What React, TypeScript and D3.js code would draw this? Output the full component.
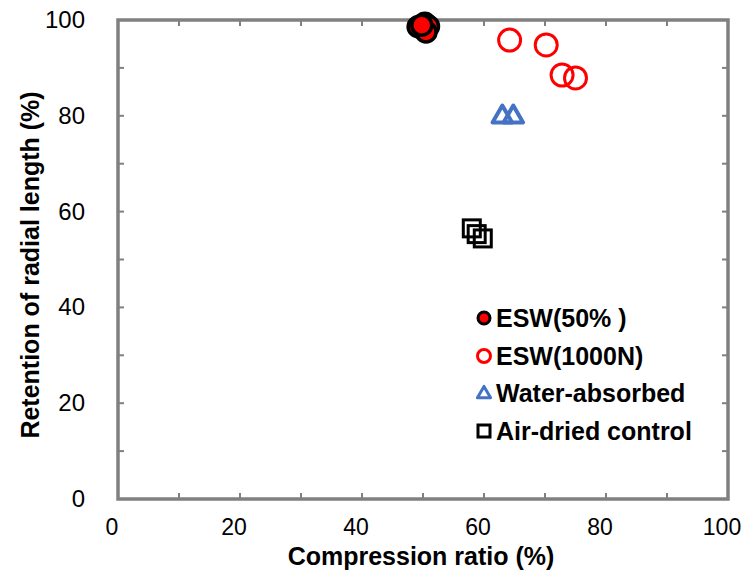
import React, { useEffect, useRef } from "react";
import * as d3 from "d3";

// values
const esw50 = [
  { x: 49.2, y: 98.6 },
  { x: 50.3, y: 99.3 },
  { x: 50.9, y: 98.7 },
  { x: 50.5, y: 97.5 },
  { x: 49.8, y: 98.9 },
];
const esw1000 = [
  { x: 64.2, y: 95.8 },
  { x: 70.2, y: 94.8 },
  { x: 72.8, y: 88.5 },
  { x: 75.0, y: 87.9 },
];
const waterAbsorbed = [
  { x: 63.0, y: 79.8 },
  { x: 64.8, y: 79.8 },
];
const airDried = [
  { x: 58.0, y: 56.5 },
  { x: 58.8, y: 55.3 },
  { x: 59.8, y: 54.4 },
];
const majorTicks = [0, 20, 40, 60, 80, 100];
const minorTicks = [10, 30, 50, 70, 90];
const legendNames = ["ESW(50% )", "ESW(1000N)", "Water-absorbed", "Air-dried control"];

export default function App() {
  const svgRef = useRef<SVGSVGElement>(null);

  useEffect(() => {
    const width = 750;
    const height = 578;
    const svg = d3.select(svgRef.current).attr("width", width).attr("height", height);
    svg.selectAll("*").remove();

    const x = d3.scaleLinear().domain([0, 100]).range([118, 728]);
    const y = d3.scaleLinear().domain([0, 100]).range([499, 20]);
    const gray = "#808080";
    const font = "Arial, 'Liberation Sans', sans-serif";

    // inward ticks on all four sides
    const allTicks = majorTicks.concat(minorTicks);
    const tl = 6;
    allTicks.forEach((t) => {
      svg.append("line").attr("x1", x(t)).attr("x2", x(t)).attr("y1", y(0)).attr("y2", y(0) - tl).attr("stroke", gray).attr("stroke-width", 2);
      svg.append("line").attr("x1", x(t)).attr("x2", x(t)).attr("y1", y(100)).attr("y2", y(100) + tl).attr("stroke", gray).attr("stroke-width", 2);
      svg.append("line").attr("y1", y(t)).attr("y2", y(t)).attr("x1", x(0)).attr("x2", x(0) + tl).attr("stroke", gray).attr("stroke-width", 2);
      svg.append("line").attr("y1", y(t)).attr("y2", y(t)).attr("x1", x(100)).attr("x2", x(100) - tl).attr("stroke", gray).attr("stroke-width", 2);
    });

    svg
      .append("rect")
      .attr("x", x(0))
      .attr("y", y(100))
      .attr("width", x(100) - x(0))
      .attr("height", y(0) - y(100))
      .attr("fill", "none")
      .attr("stroke", gray)
      .attr("stroke-width", 3.5);

    // tick labels
    svg
      .selectAll(".xl")
      .data(majorTicks)
      .enter()
      .append("text")
      .attr("x", (d) => x(d) - 6)
      .attr("y", 535)
      .attr("text-anchor", "middle")
      .style("font", `23px ${font}`)
      .text((d) => d);

    svg
      .selectAll(".yl")
      .data(majorTicks)
      .enter()
      .append("text")
      .attr("x", 85)
      .attr("y", (d) => y(d) + 8)
      .attr("text-anchor", "end")
      .style("font", `24px ${font}`)
      .text((d) => d);

    svg
      .append("text")
      .attr("x", 421)
      .attr("y", 565)
      .attr("text-anchor", "middle")
      .style("font", `bold 25px ${font}`)
      .text("Compression ratio (%)");

    svg
      .append("text")
      .attr("transform", `translate(39, 265) rotate(-90)`)
      .attr("text-anchor", "middle")
      .style("font", `bold 25px ${font}`)
      .text("Retention of radial length (%)");

    const tri = d3.symbol().type(d3.symbolTriangle).size(165);

    // points
    svg
      .selectAll(".sq")
      .data(airDried)
      .enter()
      .append("rect")
      .attr("x", (d) => x(d.x) - 8.5)
      .attr("y", (d) => y(d.y) - 8.5)
      .attr("width", 17)
      .attr("height", 17)
      .attr("fill", "none")
      .attr("stroke", "black")
      .attr("stroke-width", 3);

    svg
      .selectAll(".tr")
      .data(waterAbsorbed)
      .enter()
      .append("path")
      .attr("d", tri)
      .attr("transform", (d) => `translate(${x(d.x)},${y(d.y)})`)
      .attr("fill", "none")
      .attr("stroke", "#4472c4")
      .attr("stroke-width", 4)
      .attr("stroke-linejoin", "round");

    svg
      .selectAll(".oc")
      .data(esw1000)
      .enter()
      .append("circle")
      .attr("cx", (d) => x(d.x))
      .attr("cy", (d) => y(d.y))
      .attr("r", 11)
      .attr("fill", "none")
      .attr("stroke", "#ff0000")
      .attr("stroke-width", 3);

    svg
      .selectAll(".fc")
      .data(esw50)
      .enter()
      .append("circle")
      .attr("cx", (d) => x(d.x))
      .attr("cy", (d) => y(d.y))
      .attr("r", 10)
      .attr("fill", "#ff0000")
      .attr("stroke", "black")
      .attr("stroke-width", 3.5);

    // legend
    const lx = 484;
    const ly = [318, 356, 393, 431];
    const lg = svg.append("g");
    lg.append("circle").attr("cx", lx).attr("cy", ly[0]).attr("r", 6).attr("fill", "#ff0000").attr("stroke", "black").attr("stroke-width", 3);
    lg.append("circle").attr("cx", lx).attr("cy", ly[1]).attr("r", 6.5).attr("fill", "none").attr("stroke", "#ff0000").attr("stroke-width", 3);
    lg.append("path").attr("d", d3.symbol().type(d3.symbolTriangle).size(75)).attr("transform", `translate(${lx},${ly[2] + 1})`).attr("fill", "none").attr("stroke", "#4472c4").attr("stroke-width", 3).attr("stroke-linejoin", "round");
    lg.append("rect").attr("x", lx - 6).attr("y", ly[3] - 6).attr("width", 12).attr("height", 12).attr("fill", "none").attr("stroke", "black").attr("stroke-width", 3);
    lg.selectAll("text")
      .data(legendNames)
      .enter()
      .append("text")
      .attr("x", lx + 12)
      .attr("y", (d, i) => ly[i] + 9)
      .style("font", `bold 25px ${font}`)
      .text((d) => d);
  }, []);

  return (
    <div style={{ position: "absolute", left: 0, top: 0 }}>
      <svg ref={svgRef} style={{ display: "block" }}></svg>
    </div>
  );
}
